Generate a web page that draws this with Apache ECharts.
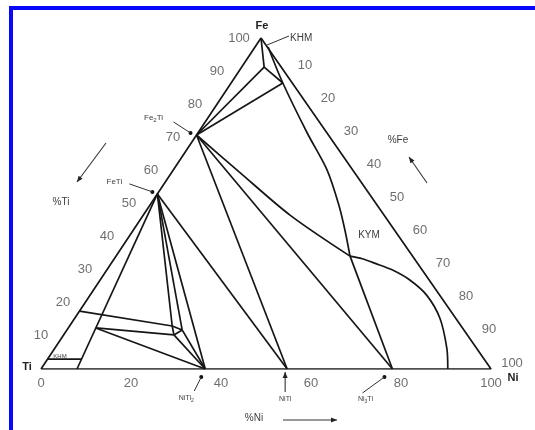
<!DOCTYPE html>
<html>
<head>
<meta charset="utf-8">
<script src="https://cdn.jsdelivr.net/npm/echarts@6/dist/echarts.min.js"></script>
<style>
  html, body { margin: 0; padding: 0; background: #fff; }
  #chart { width: 535px; height: 430px; }
</style>
</head>
<body>
<div id="chart"></div>
<script>
// Fe–Ni–Ti isothermal section. Every point is [at.% Ni, at.% Fe]; Ti is the balance.
// The Fe apex sits slightly left of the base midpoint, so Fe shifts x by SKEW per percent.
const SKEW = 0.4889;

// tick values along the three sides
const niTicks = [0, 20, 40, 60, 80, 100];
const leftTicks = [10, 20, 30, 40, 50, 60, 70, 80, 90, 100];
const rightTicks = [10, 20, 30, 40, 50, 60, 70, 80, 90, 100];

// triangle outline: Ti -> Ni -> Fe -> Ti
const triangle = [[0, 0], [100, 0], [0, 100], [0, 0]];

// Fe-rich corner
const feApexStem = [[0, 100], [5, 91.2]];
const apexToB = [[5, 91.2], [11.5, 86.4]];
const fe2TiToApex = [[0, 70.7], [5, 91.2]];
const fe2TiToB = [[0, 70.7], [11.5, 86.4]];
const alphaGammaCurve = [[2.9, 97.3], [11.5, 86.4], [24.3, 71.3], [34.2, 60.1], [42, 49.5], [47, 42], [52, 34.1]];
const kymToNi3Ti = [[52, 34.1], [78.1, 0]];
const gammaCurve = [[52, 34.1], [55.1, 33.3], [58.7, 31.9], [63.5, 29.9], [68.8, 26.9], [74.7, 22.4], [81.1, 15.4], [87.1, 6.3], [90.4, 0]];

// tie lines from Fe2Ti
const fe2TiToKym = [[0, 70.7], [15, 59.5], [32.6, 46.5], [52, 34.1]];
const fe2TiToNi3Ti = [[0, 70.7], [78.1, 0]];
const fe2TiToNiTi = [[0, 70.7], [54.7, 0]];

// tie lines from FeTi
const feTiToNiTi = [[0, 52.9], [54.7, 0]];
const feTiToNiTi2 = [[0, 52.9], [36.5, 0]];
const tiBoundary = [[0, 52.9], [8, 0]];
const feTiToP6 = [[0, 52.9], [22.8, 13], [24.5, 10.3]];
const feTiToP4 = [[0, 52.9], [25.6, 11.8]];

// three-phase region near NiTi2
const upperTieLine = [[0, 17.5], [22.8, 13], [25.6, 11.8]];
const lowerTieLine = [[6.1, 12.4], [24.5, 10.3]];
const p4ToP6 = [[25.6, 11.8], [24.5, 10.3]];
const p4ToNiTi2 = [[25.6, 11.8], [36.5, 0]];
const p6ToNiTi2 = [[24.5, 10.3], [36.5, 0]];
const p5ToNiTi2 = [[6.1, 12.4], [36.5, 0]];
const tiCornerLine = [[0, 3], [7.5, 3]];

const straightLines = [triangle, feApexStem, apexToB, fe2TiToApex, fe2TiToB, kymToNi3Ti,
  fe2TiToNi3Ti, fe2TiToNiTi, feTiToNiTi, feTiToNiTi2, tiBoundary, feTiToP6, feTiToP4,
  upperTieLine, lowerTieLine, p4ToP6, p4ToNiTi2, p6ToNiTi2, p5ToNiTi2, tiCornerLine];
const curvedLines = [alphaGammaCurve, gammaCurve, fe2TiToKym];

const toXY = ([ni, fe]) => [ni + SKEW * fe, fe];

const INK = '#161616';
const TXT = '#3c3c3c';
const FONT = '"Liberation Sans", Arial, sans-serif';

function lineSeries(points, smooth) {
  return {
    type: 'line',
    data: points.map(toXY),
    smooth: smooth ? 0.3 : false,
    symbol: 'none',
    silent: true,
    lineStyle: { color: INK, width: 1.7 },
    z: 3
  };
}

function tickSeries(points, offset) {
  return {
    type: 'scatter',
    symbolSize: 0,
    silent: true,
    data: points.map(p => ({ value: toXY(p.at), name: String(p.text) })),
    label: {
      show: true,
      formatter: '{b}',
      position: 'inside',
      offset: offset,
      color: '#4a4a4a',
      fontSize: 13,
      fontFamily: FONT
    }
  };
}

const chart = echarts.init(document.getElementById('chart'), null, { renderer: 'canvas' });

chart.setOption({
  backgroundColor: '#ffffff',
  animation: false,
  grid: { left: 41, top: 38, width: 450, height: 331 },
  xAxis: { type: 'value', min: 0, max: 100, show: false },
  yAxis: { type: 'value', min: 0, max: 100, show: false },
  series: [
    ...straightLines.map(p => lineSeries(p, false)),
    ...curvedLines.map(p => lineSeries(p, true)),
    tickSeries(niTicks.map(v => ({ at: [v, 0], text: v })), [0, 14]),
    tickSeries(leftTicks.map(v => ({ at: [0, v], text: v })), [-22, 0]),
    tickSeries(rightTicks.map(v => ({ at: [v, 100 - v], text: v })), [21, -6])
  ]
});

// annotations anchored to compositions, with pixel offsets for the text
const px = (p) => chart.convertToPixel({ gridIndex: 0 }, toXY(p));
const add = (a, b) => [a[0] + b[0], a[1] + b[1]];

const graphics = [];

function text(pos, str, opts) {
  graphics.push({
    type: 'text',
    x: pos[0], y: pos[1],
    style: Object.assign({
      text: str, fill: TXT, font: '8px ' + FONT,
      textAlign: 'center', textVerticalAlign: 'middle'
    }, opts || {}),
    z: 10
  });
}
function seg(a, b, w) {
  graphics.push({
    type: 'line',
    shape: { x1: a[0], y1: a[1], x2: b[0], y2: b[1] },
    style: { stroke: '#333', lineWidth: w || 1 },
    z: 10
  });
}
function dot(p, r) {
  graphics.push({ type: 'circle', shape: { cx: p[0], cy: p[1], r: r || 2 }, style: { fill: '#111' }, z: 10 });
}
function arrow(from, to) {
  seg(from, to, 1.1);
  const dx = to[0] - from[0], dy = to[1] - from[1];
  const len = Math.hypot(dx, dy), ux = dx / len, uy = dy / len;
  const back = [to[0] - ux * 6, to[1] - uy * 6];
  graphics.push({
    type: 'polygon',
    shape: { points: [to, [back[0] - uy * 2.5, back[1] + ux * 2.5], [back[0] + uy * 2.5, back[1] - ux * 2.5]] },
    style: { fill: '#222' },
    z: 10
  });
}
function subscripted(pos, parts, size) {
  graphics.push({
    type: 'text', x: pos[0], y: pos[1], z: 10,
    style: {
      text: parts, textAlign: 'center', textVerticalAlign: 'middle',
      rich: {
        a: { fontSize: size, fontFamily: FONT, fill: TXT, color: TXT },
        s: { fontSize: size - 2, fontFamily: FONT, fill: TXT, color: TXT, padding: [5, 0, 0, 0] }
      }
    }
  });
}

const fe = px([0, 100]), ti = px([0, 0]), ni = px([100, 0]);
const fe2Ti = px([0, 70.7]), feTi = px([0, 52.9]), kym = px([52, 34.1]);
const niTi2 = px([36.5, 0]), niTi = px([54.7, 0]), ni3Ti = px([78.1, 0]);

// element corners
text(add(fe, [1, -12]), 'Fe', { font: 'bold 11px ' + FONT, fill: '#222' });
text(add(ti, [-14, -2]), 'Ti', { font: 'bold 11px ' + FONT, fill: '#222' });
text(add(ni, [22, 9]), 'Ni', { font: 'bold 11px ' + FONT, fill: '#222' });

// KHM near the Fe apex
seg(add(fe, [6, 7]), add(fe, [28, -2]), 1);
text(add(fe, [29, 0]), 'KHM', { font: '10px ' + FONT, textAlign: 'left' });

// Fe2Ti
dot(add(fe2Ti, [-6, -2]), 2);
seg(add(fe2Ti, [-6, -2]), add(fe2Ti, [-23, -13]), 1);
subscripted(add(fe2Ti, [-43, -17]), '{a|Fe}{s|2}{a|Ti}', 8);

// FeTi
dot(add(feTi, [-5, -2]), 2);
seg(add(feTi, [-5, -2]), add(feTi, [-28, -10]), 1);
text(add(feTi, [-43, -12]), 'FeTi', { font: '8px ' + FONT });

// composition arrows
text([61, 202], '%Ti', { font: '10px ' + FONT });
arrow([106, 143], [77, 182]);
text([398, 140], '%Fe', { font: '10px ' + FONT });
arrow([427, 183], [409, 157]);
text([254, 418], '%Ni', { font: '10px ' + FONT });
arrow([283, 420], [337, 420]);

// KYM
text(add(kym, [19, -21]), 'KYM', { font: '10px ' + FONT });

// compounds on the Ti–Ni side
dot(add(niTi2, [-4, 8]), 2);
seg(add(niTi2, [-4, 8]), add(niTi2, [-11, 22]), 1);
subscripted(add(niTi2, [-19, 29]), '{a|NiTi}{s|2}', 7);
arrow(add(niTi, [-2, 23]), add(niTi, [-2, 3]));
text(add(niTi, [-2, 30]), 'NiTi', { font: '7px ' + FONT });
dot(add(ni3Ti, [-8, 8]), 2);
seg(add(ni3Ti, [-8, 8]), add(ni3Ti, [-30, 24]), 1);
subscripted(add(ni3Ti, [-27, 30]), '{a|Ni}{s|3}{a|Ti}', 7);

// small label in the Ti corner
text(add(ti, [19, -13]), 'KHM', { font: '6px ' + FONT });

// blue frame
graphics.push({
  type: 'rect', shape: { x: 11, y: 8, width: 620, height: 520 },
  style: { fill: null, stroke: '#0808ff', lineWidth: 4 }, z: 20
});

chart.setOption({ graphic: graphics });
</script>
</body>
</html>
